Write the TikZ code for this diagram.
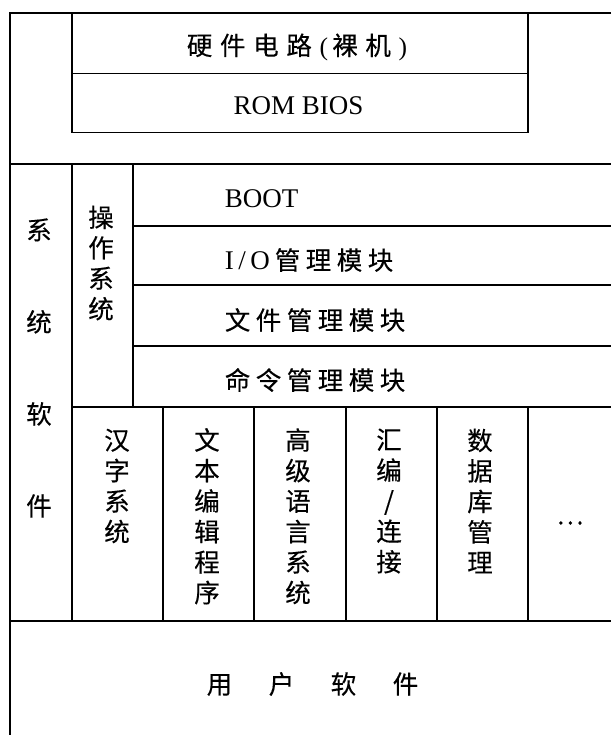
\documentclass[tikz,border=0pt]{standalone}
\usepackage{fontspec}
\setmainfont{Liberation Serif}
\newfontfamily\cjk[FakeBold=0.3]{Noto Sans CJK SC}
\newfontfamily\cjksp[LetterSpace=21.5,FakeBold=0.3]{Noto Sans CJK SC}
\newfontfamily\cjkspw[LetterSpace=30,FakeBold=0.3]{Noto Sans CJK SC}
\begin{document}
\begin{tikzpicture}[x=1pt,y=-1pt,line width=1.7pt,
  lbl/.style={inner sep=0pt,align=center,font=\cjk\fontsize{25.5}{30.5}\selectfont},
  row/.style={inner sep=0pt,anchor=west,font=\cjksp\fontsize{25.5}{30.5}\selectfont},
  lat/.style={inner sep=0pt,font=\rmfamily\fontsize{27}{30}\selectfont}]
\useasboundingbox (0,0) rectangle (611,735);
% frame lines
\draw (611,13) -- (10,13) -- (10,735);
\draw (72,13) rectangle (528,132.5);
\draw (72,73.5) -- (528,73.5);
\draw (10,164) -- (611,164);
\draw (72,164) -- (72,621);
\draw (133,164) -- (133,407);
\foreach \yy in {226,285,346} \draw (133,\yy) -- (611,\yy);
\draw (72,407) -- (611,407);
\foreach \xx in {163,254,346,437,528} \draw (\xx,407) -- (\xx,621);
\draw (10,621) -- (611,621);
% texts
\node[inner sep=0pt,font=\cjkspw\fontsize{25.5}{30}\selectfont] (hw) at (297,47) {硬件电路\textrm{(}\,裸机\textrm{)}};
\node[lat] (rom) at (298.5,105.5) {ROM BIOS};
\node[lat,anchor=west] (boot) at (224,199) {BOOT};
\node[row] (io) at (224,260) {\textrm{\fontsize{27}{30}\selectfont I\,/\,O}\hspace{5pt}管理模块};
\node[row] (file) at (224,320) {文件管理模块};
\node[row] (cmd) at (224,380) {命令管理模块};
\node[lbl,font=\cjk\fontsize{25.5}{92}\selectfont] (sys) at (39,368) {系\\统\\软\\件};
\node[lbl] (os) at (101,263) {操\\作\\系\\统};
\node[lbl] (hz) at (117,486) {汉\\字\\系\\统};
\node[lbl] (wb) at (207,516.25) {文\\本\\编\\辑\\程\\序};
\node[lbl] (gj) at (298,516.25) {高\\级\\语\\言\\系\\统};
\node[lbl] (hb) at (389,501) {汇\\编\\/\\连\\接};
\node[lbl] (sj) at (480,501) {数\\据\\库\\管\\理};
\node[lbl] (more) at (570,523) {…};
\node[lbl] (user) at (312.5,684) {用\hspace{36.5pt}户\hspace{36.5pt}软\hspace{36.5pt}件};
\end{tikzpicture}
\end{document}
